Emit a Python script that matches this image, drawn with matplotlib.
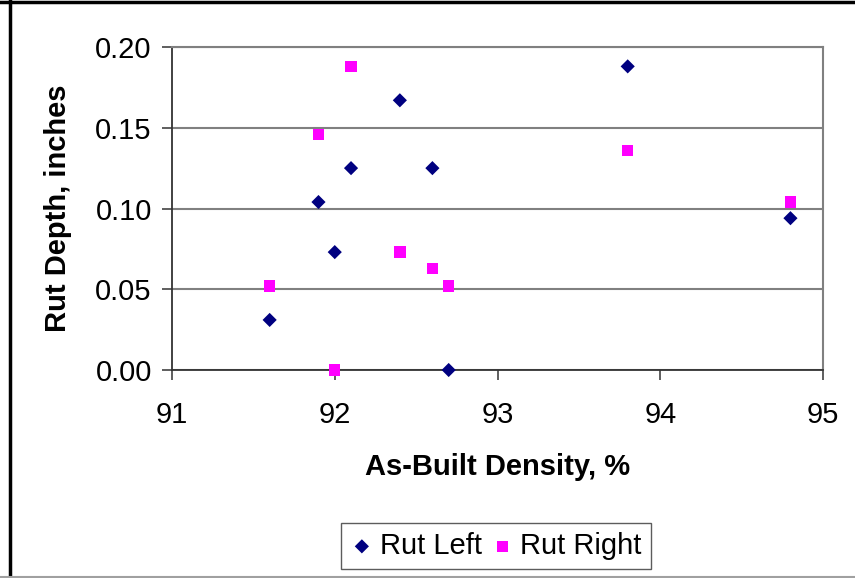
import matplotlib
matplotlib.use("Agg")
import matplotlib.pyplot as plt
from matplotlib.lines import Line2D

plt.rcParams['font.family'] = ['Liberation Sans', 'DejaVu Sans']

# As-built density (%) and measured rut depths (inches)
density_left = [91.6, 91.9, 92.0, 92.1, 92.4, 92.6, 92.7, 93.8, 94.8]
rut_left = [0.031, 0.104, 0.073, 0.125, 0.167, 0.125, 0.000, 0.188, 0.094]

density_right = [91.6, 91.9, 92.0, 92.1, 92.4, 92.6, 92.7, 93.8, 94.8]
rut_right = [0.052, 0.146, 0.000, 0.188, 0.073, 0.063, 0.052, 0.136, 0.104]

x_ticks = [91, 92, 93, 94, 95]
y_ticks = [0.00, 0.05, 0.10, 0.15, 0.20]

FS = 21
W, H = 855, 578
fig = plt.figure(figsize=(W / 100, H / 100), dpi=100)
fig.patch.set_facecolor('white')

ax = fig.add_axes([172 / W, 1 - 370 / H, (823 - 172) / W, (370 - 47) / H])

ax.scatter(density_left, rut_left, marker='D', s=52, color='#000080',
           edgecolors='none', label='Rut Left', zorder=3, clip_on=False)
ax.scatter(density_right, rut_right, marker='s', s=8.2 ** 2, color='#FF00FF',
           edgecolors='none', label='Rut Right', zorder=3, clip_on=False)

ax.set_xlim(91, 95)
ax.set_ylim(0, 0.20)
ax.set_xticks(x_ticks)
ax.set_yticks(y_ticks)
ax.set_xticklabels([f"{t:d}" for t in x_ticks])
ax.set_yticklabels([f"{t:.2f}" for t in y_ticks])

ax.yaxis.grid(True, color='#808080', linewidth=1.5, zorder=1)
ax.set_axisbelow(True)

for side in ('top', 'right'):
    ax.spines[side].set_color('#808080')
    ax.spines[side].set_linewidth(1.5)
for side in ('left', 'bottom'):
    ax.spines[side].set_color('#333333')
    ax.spines[side].set_linewidth(1.3)

ax.tick_params(axis='both', direction='out', length=7.5, width=1.1,
               color='#333333', labelsize=FS, labelcolor='black')
ax.tick_params(axis='y', pad=7)
ax.tick_params(axis='x', pad=15)

ax.set_xlabel('As-Built Density, %', fontsize=FS, fontweight='bold', va='center')
ax.xaxis.set_label_coords(0.5, (370 - 467) / 323)
ax.set_ylabel('Rut Depth, inches', fontsize=FS, fontweight='bold', va='center')
ax.yaxis.set_label_coords((58 - 172) / 651, 0.5)

leg = fig.legend(loc='center', bbox_to_anchor=(496 / W, 1 - 546 / H), ncol=2,
                 fontsize=FS, frameon=True, fancybox=False, shadow=False,
                 handlelength=0.8, handletextpad=0.22, columnspacing=0.3,
                 borderpad=0.3, borderaxespad=0, scatterpoints=1)
leg.get_frame().set_edgecolor('#333333')
leg.get_frame().set_linewidth(1.0)

# Outer frame around the chart
fig.add_artist(Line2D([0, 1], [1 - 1.5 / H, 1 - 1.5 / H], transform=fig.transFigure,
                      color='black', linewidth=2.5))
fig.add_artist(Line2D([9.5 / W, 9.5 / W], [0, 1], transform=fig.transFigure,
                      color='black', linewidth=2.5))
fig.add_artist(Line2D([0, 1], [0.8 / H, 0.8 / H], transform=fig.transFigure,
                      color='#A0A0A0', linewidth=1.5))

fig.savefig('out.png', dpi=100)
